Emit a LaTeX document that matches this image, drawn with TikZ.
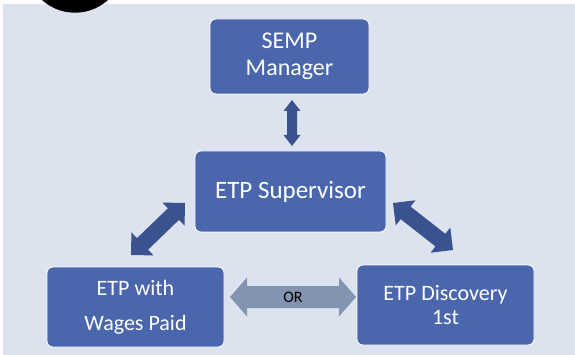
\documentclass[tikz,border=0pt]{standalone}
\usepackage{fontspec}
\setmainfont{Carlito}
\usetikzlibrary{calc}

\definecolor{paper}{HTML}{DDE3EE}
\definecolor{boxblue}{HTML}{4A66AC}
\definecolor{linkblue}{HTML}{3A528F}
\definecolor{orgray}{HTML}{8294AF}

% Double-headed block arrow from #2 to #3:
% #4 shaft half width, #5 head half width, #6 head length
\newcommand\blockarrow[6]{%
  \fill[#1] let \p1=(#2), \p2=(#3),
      \n1={atan2(\y2-\y1,\x2-\x1)} in
    (\p1)
    -- ($(\p1)+(\n1:#6)+(\n1+90:#5)$)
    -- ($(\p1)+(\n1:#6)+(\n1+90:#4)$)
    -- ($(\p2)+(\n1+180:#6)+(\n1+90:#4)$)
    -- ($(\p2)+(\n1+180:#6)+(\n1+90:#5)$)
    -- (\p2)
    -- ($(\p2)+(\n1+180:#6)+(\n1-90:#5)$)
    -- ($(\p2)+(\n1+180:#6)+(\n1-90:#4)$)
    -- ($(\p1)+(\n1:#6)+(\n1-90:#4)$)
    -- ($(\p1)+(\n1:#6)+(\n1-90:#5)$)
    -- cycle;}

\tikzset{
  rolebox/.style={draw=white, line width=0.8pt, fill=boxblue,
    rounded corners=6pt, text=white, align=center, inner sep=2pt},
}

\begin{document}
\begin{tikzpicture}[x=1pt,y=-1pt]
\useasboundingbox (0,0) rectangle (575,355);
\fill[paper] (3,4) rectangle (575,355);
\fill[black] (75,-36.5) circle (49.2);

\node[rolebox, minimum width=159pt, minimum height=75pt,
  font=\fontsize{24}{27}\selectfont] (semp) at (289.5,56.5) {SEMP\\Manager};
\node[rolebox, minimum width=191pt, minimum height=81pt,
  font=\fontsize{25}{28}\selectfont] (sup) at (290.5,191.5) {ETP Supervisor};
\node[rolebox, minimum width=177pt, minimum height=80pt,
  font=\fontsize{22}{26}\selectfont] (wages) at (135.5,307) {ETP with\\[9pt]Wages Paid};
\node[rolebox, minimum width=177pt, minimum height=80pt,
  font=\fontsize{22}{24}\selectfont] (disc) at (445.5,305) {ETP Discovery\\1st};

% arrow end points between the boxes
\coordinate (vA) at (292,100);
\coordinate (vB) at (292,146);
\coordinate (lA) at (131,255);
\coordinate (lB) at (185,203);
\coordinate (rA) at (393,203);
\coordinate (rB) at (453,250);
\coordinate (oA) at (230,297);
\coordinate (oB) at (356,297);

\blockarrow{linkblue}{vA}{vB}{5pt}{8.5pt}{11pt}
\blockarrow{linkblue}{lA}{lB}{8pt}{16pt}{16pt}
\blockarrow{linkblue}{rA}{rB}{8pt}{16pt}{16pt}
\blockarrow{orgray}{oA}{oB}{11pt}{19.5pt}{17pt}

\node[font=\fontsize{16}{18}\selectfont, text=black] (or) at ($(oA)!0.5!(oB)$) {OR};
\end{tikzpicture}
\end{document}
